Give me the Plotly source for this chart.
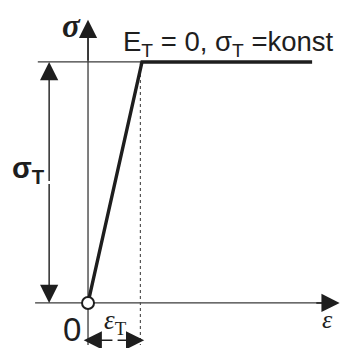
import plotly.graph_objects as go

# elastic - perfectly plastic material (strain normalised to eps_T, stress to sigma_T)
eps_T = 1.0
sigma_T = 1.0
strain = [0.0, eps_T, 4.15]
stress = [0.0, sigma_T, sigma_T]

INK = "#1e1e1e"
THIN = "#3a3a3a"

fig = go.Figure()

# x axis (strain)
fig.add_trace(go.Scatter(x=[-0.98, 4.5], y=[0, 0], mode="lines",
                         line=dict(color=THIN, width=1.3), hoverinfo="skip"))
# sigma axis
fig.add_trace(go.Scatter(x=[0, 0], y=[-0.175, 1.12], mode="lines",
                         line=dict(color=THIN, width=1.3), hoverinfo="skip"))
# thin reference line at sigma_T
fig.add_trace(go.Scatter(x=[-0.93, eps_T], y=[sigma_T, sigma_T], mode="lines",
                         line=dict(color=THIN, width=1.3), hoverinfo="skip"))
# dashed line at eps_T
fig.add_trace(go.Scatter(x=[eps_T - 0.03, eps_T - 0.03], y=[sigma_T, -0.175], mode="lines",
                         line=dict(color="#555", width=1.2, dash="3px,3px"), hoverinfo="skip"))
# stress-strain curve
fig.add_trace(go.Scatter(x=strain, y=stress, mode="lines",
                         line=dict(color=INK, width=3.4), hoverinfo="skip"))
# origin marker
fig.add_trace(go.Scatter(x=[0], y=[0], mode="markers",
                         marker=dict(size=12, color="white", line=dict(color=INK, width=2)),
                         hoverinfo="skip"))

ann = []


def arrow(x, y, ax, ay):
    ann.append(dict(x=x, y=y, ax=ax, ay=ay, xref="x", yref="y", axref="x", ayref="y",
                    showarrow=True, arrowhead=2, arrowsize=2.6, arrowwidth=1.4,
                    arrowcolor=INK, text=""))


# axis arrowheads
arrow(4.66, 0, 4.2, 0)
arrow(0, 1.175, 0, 1.0)
# sigma_T dimension
arrow(-0.72, sigma_T, -0.72, 0.5)
arrow(-0.72, 0, -0.72, 0.5)
# eps_T dimension
arrow(-0.08, -0.155, 0.48, -0.155)
arrow(1.04, -0.155, 0.52, -0.155)


def label(x, y, text, size, family="Liberation Sans", color=INK):
    ann.append(dict(x=x, y=y, xref="x", yref="y", text=text, showarrow=False,
                    font=dict(size=size, family=family, color=color)))


label(-0.3, 1.15, "<b><i>σ</i></b>", 33, "Liberation Serif")
label(2.6, 1.075, "E<sub>T</sub> = 0, σ<sub>T</sub> =konst", 27.5)
label(-1.1, 0.55, "<b>σ<sub>T</sub></b>", 29)
label(-0.3, -0.11, "0", 33)
label(0.5, -0.08, "<i>ε</i><sub>T</sub>", 27, "Liberation Serif")
label(4.44, -0.07, "<i>ε</i>", 26, "Liberation Serif")

fig.update_layout(
    width=341, height=348,
    margin=dict(l=0, r=0, t=0, b=0),
    paper_bgcolor="white", plot_bgcolor="white",
    showlegend=False,
    annotations=ann,
    xaxis=dict(range=[-1.63, 4.685], visible=False, fixedrange=True),
    yaxis=dict(range=[-0.187, 1.257], visible=False, fixedrange=True),
)

# page body has a default 8px margin; remove it so the figure fills the window
fig.write_html("out.html", config={"displayModeBar": False},
               post_script="document.body.style.margin='0';")
